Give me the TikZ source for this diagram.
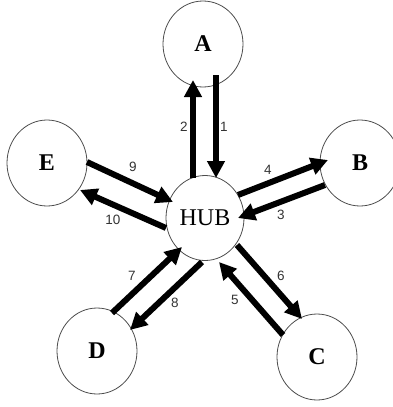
\documentclass[tikz,border=0pt]{standalone}
\usepackage{fontspec}
\setmainfont{Liberation Serif}
\newfontfamily\numfont{Liberation Sans}
\usetikzlibrary{shapes.geometric,arrows.meta,calc}
\begin{document}
\begin{tikzpicture}[x=1pt,y=-1pt,
  station/.style={ellipse,draw=black!70,line width=0.8pt,minimum width=80pt,minimum height=86pt,inner sep=0pt,font=\fontsize{24}{24}\selectfont\bfseries},
  hubstyle/.style={ellipse,draw=black!70,line width=0.8pt,minimum width=78pt,minimum height=85pt,inner sep=0pt,font=\fontsize{24}{24}\selectfont},
  flow/.style={line width=6pt,-{Triangle[length=17pt,width=17pt]}},
  num/.style={font=\numfont\fontsize{13.5}{14}\selectfont,text=black!80,inner sep=0pt}]
\useasboundingbox (0,0) rectangle (393,407);
\node[station] (A) at (203,44) {A};
\node[hubstyle] (hub) at (205,218) {HUB};
\node[station] (B) at (360,163) {B};
\node[station] (E) at (47,163) {E};
\node[station] (D) at (97,351) {D};
\node[station] (C) at (317,357) {C};
% arrows
\draw[flow] ($(A)+(13,31)$) -- ($(hub)+(11,-40)$);
\draw[flow] ($(hub)+(-12,-40)$) -- ($(A)+(-10,36)$);
\draw[flow] ($(hub)+(33,-23)$) -- ($(B)+(-32,-3)$);
\draw[flow] ($(B)+(-35,22)$) -- ($(hub)+(33,0)$);
\draw[flow] ($(E)+(40,-1)$) -- ($(hub)+(-32,-16)$);
\draw[flow] ($(hub)+(-39,10)$) -- ($(E)+(33,27)$);
\draw[flow] ($(D)+(15,-38)$) -- ($(hub)+(-23,29)$);
\draw[flow] ($(hub)+(-3,44)$) -- ($(D)+(33,-21)$);
\draw[flow] ($(hub)+(32,27)$) -- ($(C)+(-15,-38)$);
\draw[flow] ($(C)+(-34,-22)$) -- ($(hub)+(14,44)$);
% labels
\node[num] (l1) at (224,127) {1};
\node[num] (l2) at (184,127) {2};
\node[num] (l3) at (281,215) {3};
\node[num] (l4) at (268,170) {4};
\node[num] (l5) at (235,300) {5};
\node[num] (l6) at (281,276) {6};
\node[num] (l7) at (132,276) {7};
\node[num] (l8) at (175,303) {8};
\node[num] (l9) at (133,167) {9};
\node[num] (l10) at (113,220) {10};
\end{tikzpicture}
\end{document}
